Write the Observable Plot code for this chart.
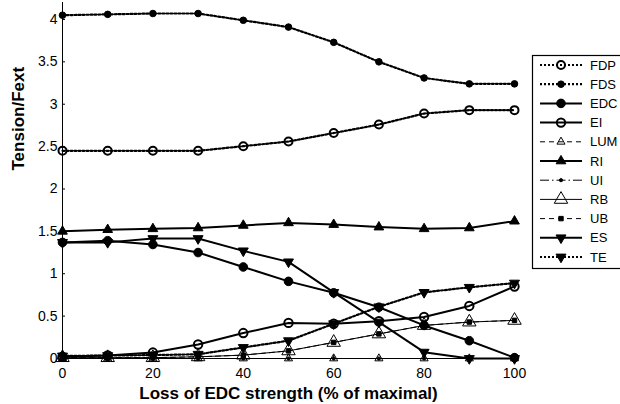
<!DOCTYPE html>
<html><head><meta charset="utf-8">
<script src="https://cdn.jsdelivr.net/npm/d3@7"></script>
<script src="https://cdn.jsdelivr.net/npm/@observablehq/plot@0.6"></script>
<style>
body{margin:0;background:#fff;}
#wrap{position:relative;width:620px;height:404px;overflow:hidden;font-family:"Liberation Sans",Arial,sans-serif;}
#wrap svg{display:block;}
#legend{position:absolute;left:0;top:0;}
</style></head><body><div id="wrap"></div>
<script>
// ---- data ----
const xs = [0, 10, 20, 30, 40, 50, 60, 70, 80, 90, 100];
const FDP = [2.45, 2.45, 2.45, 2.45, 2.505, 2.56, 2.66, 2.76, 2.89, 2.93, 2.93];
const FDS = [4.05, 4.06, 4.07, 4.07, 3.99, 3.91, 3.73, 3.50, 3.31, 3.24, 3.24];
const EDC = [1.37, 1.39, 1.345, 1.25, 1.08, 0.91, 0.775, 0.605, 0.39, 0.21, 0.01];
const EI  = [0.02, 0.035, 0.07, 0.165, 0.30, 0.42, 0.41, 0.44, 0.49, 0.62, 0.85];
const LUM = [0, 0, 0, 0, 0, 0, 0, 0, 0, 0, 0];
const RI  = [1.50, 1.52, 1.53, 1.54, 1.57, 1.60, 1.58, 1.55, 1.53, 1.54, 1.62];
const UI  = [0, 0, 0, 0, 0, 0, 0, 0, 0, 0, 0];
const RB  = [0.01, 0.01, 0.01, 0.02, 0.04, 0.09, 0.19, 0.29, 0.39, 0.43, 0.45];
const UB  = [0.01, 0.01, 0.01, 0.02, 0.04, 0.09, 0.19, 0.29, 0.39, 0.43, 0.45];
const ES  = [1.37, 1.37, 1.415, 1.415, 1.27, 1.14, 0.78, 0.43, 0.075, 0, 0];
const TE  = [0.03, 0.035, 0.04, 0.05, 0.13, 0.21, 0.41, 0.61, 0.78, 0.84, 0.89];
const seriesNames = ["FDP", "FDS", "EDC", "EI", "LUM", "RI", "UI", "RB", "UB", "ES", "TE"];
const seriesValues = [FDP, FDS, EDC, EI, LUM, RI, UI, RB, UB, ES, TE];
const xTicks = [0, 20, 40, 60, 80, 100];
const yTicks = [0, 0.5, 1, 1.5, 2, 2.5, 3, 3.5, 4];
const xLabel = "Loss of EDC strength (% of maximal)";
const yLabel = "Tension/Fext";

// ---- styles ----
const sqrt3 = Math.sqrt(3);
const triDown = {
  draw(ctx, size) {
    const y = -Math.sqrt(size / (sqrt3 * 3));
    ctx.moveTo(0, -y * 2);
    ctx.lineTo(-sqrt3 * y, y);
    ctx.lineTo(sqrt3 * y, y);
    ctx.closePath();
  }
};
const DOT = "2,2", DASH = "5,4", DASHDOT = "9,3,1.5,3";
const styles = {
  FDP: {dash: DOT, sw: 2.2, symbol: "circle", r: 4, fill: "none", msw: 2},
  FDS: {dash: DOT, sw: 2.2, symbol: "circle", r: 3.3, fill: "black", msw: 1},
  EDC: {dash: null, sw: 2, symbol: "circle", r: 4.3, fill: "black", msw: 1},
  EI:  {dash: null, sw: 2, symbol: "circle", r: 4.2, fill: "none", msw: 2},
  LUM: {dash: DASH, sw: 1, symbol: "triangle", r: 3, fill: "none", msw: 1},
  RI:  {dash: null, sw: 2, symbol: "triangle", r: 3.6, fill: "black", msw: 1},
  UI:  {dash: DASHDOT, sw: 1, symbol: "circle", r: 1.6, fill: "black", msw: 1},
  RB:  {dash: null, sw: 1, symbol: "triangle", r: 5, fill: "none", msw: 1},
  UB:  {dash: DASH, sw: 1, symbol: "square", r: 2.5, fill: "black", msw: 1},
  ES:  {dash: null, sw: 2, symbol: triDown, r: 3.7, fill: "black", msw: 1},
  TE:  {dash: DOT, sw: 2.2, symbol: triDown, r: 3.7, fill: "black", msw: 1}
};

const rows = [];
seriesNames.forEach((n, i) => seriesValues[i].forEach((v, j) => rows.push({series: n, x: xs[j], y: v})));

const marks = [
  Plot.ruleX([0], {stroke: "black", strokeWidth: 1}),
  Plot.ruleY([0], {stroke: "black", strokeWidth: 1}),
  Plot.axisX({ticks: xTicks, tickSize: -3, tickPadding: 13, label: null, fontSize: 14}),
  Plot.axisY({ticks: yTicks, tickSize: -3, tickPadding: 8, tickFormat: d => String(d), label: null, fontSize: 14}),
  Plot.text([yLabel], {text: d => d, frameAnchor: "left", rotate: -90, dx: -44, dy: -10, fontWeight: "bold", fontSize: 17}),
  Plot.text([xLabel], {text: d => d, frameAnchor: "bottom", dy: 40, fontWeight: "bold", fontSize: 17})
];
seriesNames.forEach(n => {
  const s = styles[n];
  const d = rows.filter(r => r.series === n);
  marks.push(Plot.line(d, {x: "x", y: "y", stroke: "black", strokeWidth: s.sw, strokeDasharray: s.dash || undefined}));
  marks.push(Plot.dot(d, {x: "x", y: "y", symbol: s.symbol, r: s.r, fill: s.fill, stroke: "black", strokeWidth: s.msw}));
});

const chart = Plot.plot({
  width: 620, height: 404,
  marginLeft: 62, marginRight: 106, marginTop: 2, marginBottom: 46,
  x: {domain: [0, 100]},
  y: {domain: [0, 4.2]},
  style: {fontFamily: "Liberation Sans, Arial, sans-serif", fontSize: "14px", color: "black", background: "white", overflow: "visible"},
  marks
});
const wrap = document.getElementById("wrap");
wrap.appendChild(chart);

// ---- legend (overlay) ----
const lg = d3.select(wrap).append("svg").attr("id", "legend").attr("width", 620).attr("height", 404);
lg.append("rect").attr("x", 532.5).attr("y", 55.5).attr("width", 100).attr("height", 213)
  .attr("fill", "white").attr("stroke", "black").attr("stroke-width", 1.2);
seriesNames.forEach((n, i) => {
  const s = styles[n];
  const y = 65 + i * 19.2;
  const g = lg.append("g");
  g.append("line").attr("x1", 540).attr("x2", 582).attr("y1", y).attr("y2", y)
    .attr("stroke", "black").attr("stroke-width", s.sw).attr("stroke-dasharray", s.dash);
  const sym = typeof s.symbol === "string" ? ({circle: d3.symbolCircle, triangle: d3.symbolTriangle, square: d3.symbolSquare})[s.symbol] : s.symbol;
  g.append("path").attr("transform", `translate(561,${y})`)
    .attr("d", d3.symbol(sym, s.r * s.r * Math.PI)())
    .attr("fill", s.fill).attr("stroke", "black").attr("stroke-width", s.msw);
  g.append("text").attr("x", 590).attr("y", y).attr("dy", "0.35em")
    .attr("font-size", 13).attr("font-family", "Liberation Sans, Arial, sans-serif").text(n);
});
</script></body></html>
